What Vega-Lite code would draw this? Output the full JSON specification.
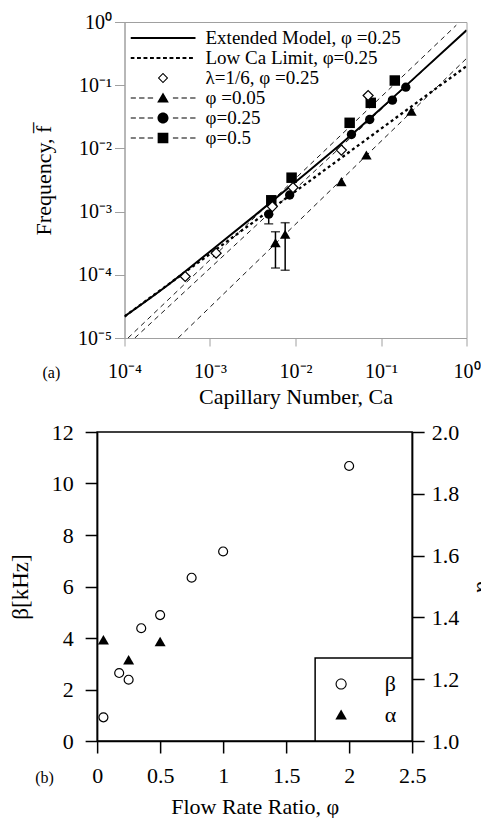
{
  "$schema": "https://vega.github.io/schema/vega-lite/v6.json",
  "padding": {"left": 8, "top": 11, "right": 0, "bottom": 0},
  "spacing": 12,
  "columns": 1,
  "center": true,
  "resolve": {"scale": {"shape": "independent"}, "legend": {"shape": "independent"}},
  "config": {
    "font": "Liberation Serif",
    "axis": {"grid": false, "labelColor": "black", "titleColor": "black", "titleFontWeight": "normal", "labelFlush": false, "labelOverlap": false},
    "legend": {"labelColor": "black", "strokeWidth": 1.5},
    "title": {"color": "black", "fontWeight": "normal"}
  },
  "datasets": {
    "lines": [
      {"s": "ext", "k": "ext", "Ca": 0.0001, "f": 0.0000219},
      {"s": "ext", "k": "ext", "Ca": 0.0003162, "f": 0.0000676},
      {"s": "ext", "k": "ext", "Ca": 0.001, "f": 0.000234},
      {"s": "ext", "k": "ext", "Ca": 0.003162, "f": 0.000817},
      {"s": "ext", "k": "ext", "Ca": 0.01, "f": 0.00295},
      {"s": "ext", "k": "ext", "Ca": 0.03162, "f": 0.0108},
      {"s": "ext", "k": "ext", "Ca": 0.1, "f": 0.0428},
      {"s": "ext", "k": "ext", "Ca": 0.3162, "f": 0.178},
      {"s": "ext", "k": "ext", "Ca": 1, "f": 0.74},
      {"s": "low", "k": "low", "Ca": 0.0001, "f": 0.0000219},
      {"s": "low", "k": "low", "Ca": 1, "f": 0.2},
      {"s": "fit50", "k": "fit", "Ca": 0.00011, "f": 0.00001},
      {"s": "fit50", "k": "fit", "Ca": 0.76, "f": 0.89},
      {"s": "fit25", "k": "fit", "Ca": 0.000132, "f": 0.00001},
      {"s": "fit25", "k": "fit", "Ca": 1, "f": 0.742},
      {"s": "fit05", "k": "fit", "Ca": 0.000424, "f": 0.00001},
      {"s": "fit05", "k": "fit", "Ca": 1, "f": 0.265}
    ],
    "err": [
      {"Ca": 0.00486, "lo": 0.00064, "hi": 0.00091},
      {"Ca": 0.00583, "lo": 0.000128, "hi": 0.00048},
      {"Ca": 0.00757, "lo": 0.000118, "hi": 0.000667}
    ],
    "circ": [
      {"Ca": 0.00486, "f": 0.00091},
      {"Ca": 0.00855, "f": 0.00183},
      {"Ca": 0.0451, "f": 0.0166},
      {"Ca": 0.0738, "f": 0.0287},
      {"Ca": 0.136, "f": 0.058},
      {"Ca": 0.195, "f": 0.093}
    ],
    "sq": [
      {"Ca": 0.00521, "f": 0.00151},
      {"Ca": 0.009, "f": 0.00344},
      {"Ca": 0.043, "f": 0.0254},
      {"Ca": 0.0759, "f": 0.0526},
      {"Ca": 0.145, "f": 0.1186}
    ],
    "tri": [
      {"Ca": 0.00583, "f": 0.000322},
      {"Ca": 0.00757, "f": 0.000437},
      {"Ca": 0.0344, "f": 0.00298},
      {"Ca": 0.0675, "f": 0.00785},
      {"Ca": 0.227, "f": 0.0388}
    ],
    "dia": [
      {"Ca": 0.000513, "f": 0.000094},
      {"Ca": 0.00118, "f": 0.00022},
      {"Ca": 0.00536, "f": 0.0012},
      {"Ca": 0.00935, "f": 0.0024},
      {"Ca": 0.0344, "f": 0.0094},
      {"Ca": 0.0707, "f": 0.0687}
    ],
    "legA": [
      {"e": "Extended Model, φ =0.25"},
      {"e": "Low Ca Limit, φ=0.25"},
      {"e": "λ=1/6, φ =0.25"},
      {"e": "φ =0.05"},
      {"e": "φ=0.25"},
      {"e": "φ=0.5"}
    ],
    "beta": [
      {"phi": 0.05, "v": 0.92},
      {"phi": 0.175, "v": 2.64},
      {"phi": 0.25, "v": 2.38},
      {"phi": 0.35, "v": 4.38},
      {"phi": 0.5, "v": 4.89},
      {"phi": 0.75, "v": 6.34},
      {"phi": 1.0, "v": 7.36},
      {"phi": 2.0, "v": 10.68}
    ],
    "alpha": [
      {"phi": 0.05, "v": 1.328},
      {"phi": 0.25, "v": 1.263},
      {"phi": 0.5, "v": 1.322}
    ],
    "legB": [
      {"s": "β"},
      {"s": "α"}
    ]
  },
  "concat": [
    {
      "width": 342,
      "height": 316,
      "view": {"stroke": "#a0a0a0", "strokeWidth": 1},
      "title": {"text": "(a)", "orient": "bottom", "anchor": "start", "frame": "group", "fontSize": 16, "offset": 0, "dx": -82, "dy": -42},
      "layer": [
        {
          "data": {"name": "lines"},
          "transform": [{"filter": "datum.k === 'fit'"}],
          "mark": {"type": "line", "color": "black", "strokeWidth": 0.9, "strokeDash": [5, 4], "clip": true},
          "encoding": {
            "x": {"field": "Ca", "type": "quantitative", "scale": {"type": "log", "domain": [0.0001, 1], "nice": false},
              "axis": {"values": [0.0001, 0.001, 0.01, 0.1, 1], "labelExpr": "'10' + ['⁰','⁻¹','⁻²','⁻³','⁻⁴','⁻⁵'][-round(log(datum.value)/LN10)]",
                "title": "Capillary Number, Ca", "titleFontSize": 22, "titlePadding": 5, "labelFontSize": 20, "labelPadding": 15,
                "tickSize": 8, "domainColor": "#a0a0a0", "tickColor": "#a0a0a0"}},
            "y": {"field": "f", "type": "quantitative", "scale": {"type": "log", "domain": [0.00001, 1], "nice": false},
              "axis": {"values": [0.00001, 0.0001, 0.001, 0.01, 0.1, 1], "labelExpr": "'10' + ['⁰','⁻¹','⁻²','⁻³','⁻⁴','⁻⁵'][-round(log(datum.value)/LN10)]",
                "title": "Frequency, f̅", "titleFontSize": 22, "titleX": -69, "labelFontSize": 20, "labelPadding": 3,
                "tickSize": 10, "domainColor": "#a0a0a0", "tickColor": "#a0a0a0"}},
            "detail": {"field": "s"}
          }
        },
        {
          "data": {"name": "lines"},
          "transform": [{"filter": "datum.k === 'low'"}],
          "mark": {"type": "line", "color": "black", "strokeWidth": 2.3, "strokeDash": [3, 3], "clip": true},
          "encoding": {
            "x": {"field": "Ca", "type": "quantitative", "scale": {"type": "log", "domain": [0.0001, 1], "nice": false}},
            "y": {"field": "f", "type": "quantitative", "title": "Frequency, f̅", "scale": {"type": "log", "domain": [0.00001, 1], "nice": false}}
          }
        },
        {
          "data": {"name": "lines"},
          "transform": [{"filter": "datum.k === 'ext'"}],
          "mark": {"type": "line", "color": "black", "strokeWidth": 2, "interpolate": "monotone", "clip": true},
          "encoding": {
            "x": {"field": "Ca", "type": "quantitative", "scale": {"type": "log", "domain": [0.0001, 1], "nice": false}},
            "y": {"field": "f", "type": "quantitative", "title": "Frequency, f̅", "scale": {"type": "log", "domain": [0.00001, 1], "nice": false}}
          }
        },
        {
          "data": {"name": "err"},
          "mark": {"type": "errorbar", "ticks": true, "size": 9, "thickness": 1.5, "color": "black"},
          "encoding": {
            "x": {"field": "Ca", "type": "quantitative", "scale": {"type": "log", "domain": [0.0001, 1], "nice": false}},
            "y": {"field": "lo", "type": "quantitative", "title": "Frequency, f̅", "scale": {"type": "log", "domain": [0.00001, 1], "nice": false}},
            "y2": {"field": "hi"}
          }
        },
        {
          "data": {"name": "circ"},
          "mark": {"type": "point", "shape": "circle", "filled": true, "color": "black", "size": 87, "opacity": 1},
          "encoding": {
            "x": {"field": "Ca", "type": "quantitative", "scale": {"type": "log", "domain": [0.0001, 1], "nice": false}},
            "y": {"field": "f", "type": "quantitative", "title": "Frequency, f̅", "scale": {"type": "log", "domain": [0.00001, 1], "nice": false}}
          }
        },
        {
          "data": {"name": "sq"},
          "mark": {"type": "point", "shape": "square", "filled": true, "color": "black", "size": 110, "opacity": 1},
          "encoding": {
            "x": {"field": "Ca", "type": "quantitative", "scale": {"type": "log", "domain": [0.0001, 1], "nice": false}},
            "y": {"field": "f", "type": "quantitative", "title": "Frequency, f̅", "scale": {"type": "log", "domain": [0.00001, 1], "nice": false}}
          }
        },
        {
          "data": {"name": "tri"},
          "mark": {"type": "point", "shape": "triangle-up", "filled": true, "color": "black", "size": 110, "opacity": 1},
          "encoding": {
            "x": {"field": "Ca", "type": "quantitative", "scale": {"type": "log", "domain": [0.0001, 1], "nice": false}},
            "y": {"field": "f", "type": "quantitative", "title": "Frequency, f̅", "scale": {"type": "log", "domain": [0.00001, 1], "nice": false}}
          }
        },
        {
          "data": {"name": "dia"},
          "mark": {"type": "point", "shape": "diamond", "filled": true, "fill": "white", "stroke": "black", "strokeWidth": 1.2, "size": 100, "opacity": 1},
          "encoding": {
            "x": {"field": "Ca", "type": "quantitative", "scale": {"type": "log", "domain": [0.0001, 1], "nice": false}},
            "y": {"field": "f", "type": "quantitative", "title": "Frequency, f̅", "scale": {"type": "log", "domain": [0.00001, 1], "nice": false}}
          }
        },
        {
          "data": {"name": "legA"},
          "mark": {"type": "point", "filled": true, "color": "black", "size": 4225, "opacity": 0},
          "encoding": {
            "shape": {
              "field": "e", "type": "nominal",
              "scale": {
                "domain": ["Extended Model, φ =0.25", "Low Ca Limit, φ=0.25", "λ=1/6, φ =0.25", "φ =0.05", "φ=0.25", "φ=0.5"],
                "range": [
                  "M-1,-0.03H1V0.03H-1Z",
                  "M-1,-0.03H-0.88V0.03H-1Z M-0.8,-0.03H-0.68V0.03H-0.8Z M-0.6,-0.03H-0.48V0.03H-0.6Z M-0.4,-0.03H-0.28V0.03H-0.4Z M-0.2,-0.03H-0.08V0.03H-0.2Z M0,-0.03H0.12V0.03H0Z M0.2,-0.03H0.32V0.03H0.2Z M0.4,-0.03H0.52V0.03H0.4Z M0.6,-0.03H0.72V0.03H0.6Z M0.8,-0.03H0.92V0.03H0.8Z",
                  "M0,-0.16L0.16,0L0,0.16L-0.16,0Z M0,-0.115L-0.115,0L0,0.115L0.115,0Z",
                  "M-1,-0.016H-0.835V0.016H-1Z M-0.735,-0.016H-0.57V0.016H-0.735Z M-0.47,-0.016H-0.305V0.016H-0.47Z M0.305,-0.016H0.47V0.016H0.305Z M0.57,-0.016H0.735V0.016H0.57Z M0.835,-0.016H1V0.016H0.835Z M0,-0.17L0.18,0.14L-0.18,0.14Z",
                  "M-1,-0.016H-0.835V0.016H-1Z M-0.735,-0.016H-0.57V0.016H-0.735Z M-0.47,-0.016H-0.305V0.016H-0.47Z M0.305,-0.016H0.47V0.016H0.305Z M0.57,-0.016H0.735V0.016H0.57Z M0.835,-0.016H1V0.016H0.835Z M-0.17,0A0.17,0.17 0 1,0 0.17,0A0.17,0.17 0 1,0 -0.17,0Z",
                  "M-1,-0.016H-0.835V0.016H-1Z M-0.735,-0.016H-0.57V0.016H-0.735Z M-0.47,-0.016H-0.305V0.016H-0.47Z M0.305,-0.016H0.47V0.016H0.305Z M0.57,-0.016H0.735V0.016H0.57Z M0.835,-0.016H1V0.016H0.835Z M-0.165,-0.165H0.165V0.165H-0.165Z"
                ]
              },
              "legend": {"title": null, "orient": "top-left", "offset": 0, "padding": 6, "symbolSize": 4225, "clipHeight": 20, "rowPadding": 0,
                "labelOffset": 10, "labelFontSize": 19, "labelLimit": 400, "symbolStrokeWidth": 0, "symbolOpacity": 1, "symbolFillColor": "black"}
            }
          }
        }
      ]
    },
    {
      "width": 315,
      "height": 309,
      "view": {"stroke": "black", "strokeWidth": 1.5},
      "title": {"text": "(b)", "orient": "bottom", "anchor": "start", "frame": "group", "fontSize": 16, "offset": 0, "dx": -62, "dy": -47},
      "layer": [
        {
          "data": {"name": "beta"},
          "mark": {"type": "point", "shape": "circle", "filled": true, "fill": "white", "stroke": "black", "strokeWidth": 1.2, "size": 80, "opacity": 1},
          "encoding": {
            "x": {"field": "phi", "type": "quantitative", "scale": {"domain": [0, 2.5], "nice": false},
              "axis": {"values": [0, 0.5, 1, 1.5, 2, 2.5], "format": "~g", "title": "Flow Rate Ratio, φ", "titleFontSize": 22, "titlePadding": 10,
                "labelFontSize": 22, "labelPadding": 12, "tickSize": 12, "tickWidth": 1.5, "domainWidth": 1.5, "domainColor": "black", "tickColor": "black"}},
            "y": {"field": "v", "type": "quantitative", "scale": {"domain": [0, 12], "nice": false},
              "axis": {"values": [0, 2, 4, 6, 8, 10, 12], "format": "d", "title": "β[kHz]", "titleFontSize": 23, "titleX": -65,
                "labelFontSize": 22, "labelPadding": 12, "tickSize": 12, "tickWidth": 1.5, "domainWidth": 1.5, "domainColor": "black", "tickColor": "black"}}
          }
        },
        {
          "data": {"name": "alpha"},
          "mark": {"type": "point", "shape": "triangle-up", "filled": true, "color": "black", "size": 121, "opacity": 1},
          "encoding": {
            "x": {"field": "phi", "type": "quantitative", "title": "Flow Rate Ratio, φ", "scale": {"domain": [0, 2.5], "nice": false}},
            "y": {"field": "v", "type": "quantitative", "scale": {"domain": [1, 2], "nice": false},
              "axis": {"orient": "right", "values": [1, 1.2, 1.4, 1.6, 1.8, 2], "format": ".1f", "title": "α", "titleFontSize": 22, "titleX": 59, "minExtent": 95,
                "labelFontSize": 22, "labelPadding": 7, "tickSize": 12, "tickWidth": 1.5, "domainWidth": 1.5, "domainColor": "black", "tickColor": "black"}}
          }
        },
        {
          "data": {"name": "legB"},
          "mark": {"type": "point", "filled": true, "color": "black", "size": 324, "opacity": 0},
          "encoding": {
            "shape": {
              "field": "s", "type": "nominal",
              "scale": {
                "domain": ["β", "α"],
                "range": [
                  "M-0.62,0A0.62,0.62 0 1,0 0.62,0A0.62,0.62 0 1,0 -0.62,0Z M-0.5,0A0.5,0.5 0 1,1 0.5,0A0.5,0.5 0 1,1 -0.5,0Z",
                  "M0,-0.62L0.64,0.5L-0.64,0.5Z"
                ]
              },
              "legend": {"title": null, "orient": "bottom-right", "offset": 0, "padding": 15, "symbolSize": 324, "rowPadding": 9,
                "labelOffset": 32.5, "labelFontSize": 22, "strokeColor": "black", "fillColor": "white",
                "symbolStrokeWidth": 0, "symbolOpacity": 1, "symbolFillColor": "black"}
            }
          }
        }
      ],
      "resolve": {"scale": {"y": "independent"}}
    }
  ]
}
